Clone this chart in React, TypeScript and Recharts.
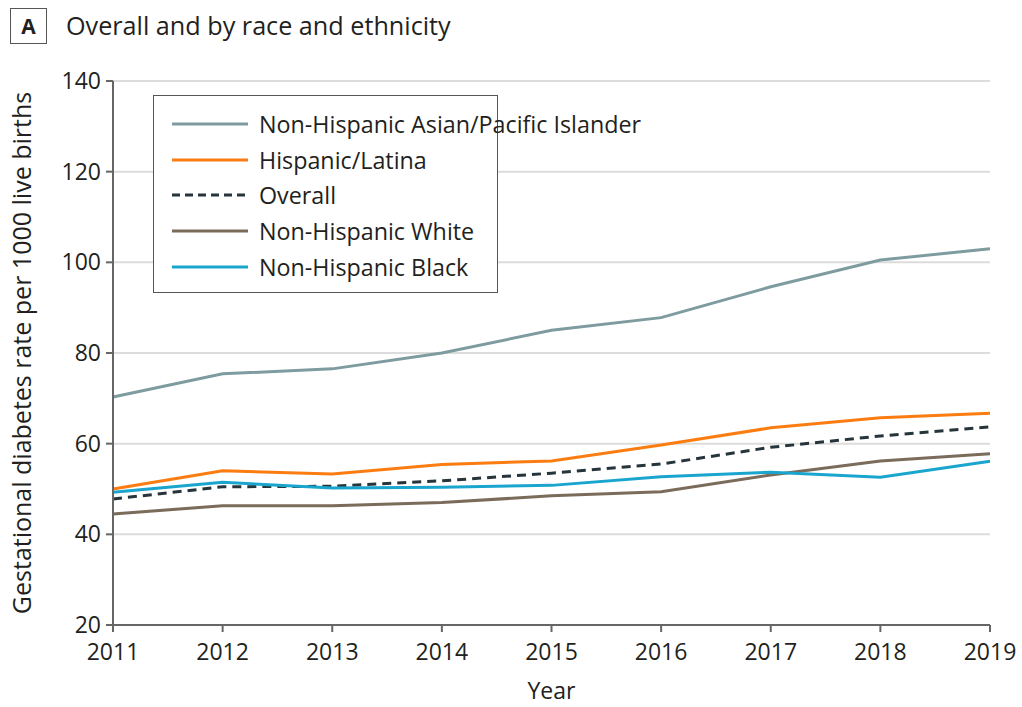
import React from 'react';
import {
  LineChart,
  Line,
  XAxis,
  YAxis,
  CartesianGrid,
  Legend,
  Label,
} from 'recharts';

// Gestational diabetes rate per 1000 live births, 2011-2019
const years = [2011, 2012, 2013, 2014, 2015, 2016, 2017, 2018, 2019];
const asianPacificIslander = [70.3, 75.4, 76.5, 80.0, 85.0, 87.8, 94.6, 100.5, 103.0];
const hispanicLatina = [50.0, 54.0, 53.3, 55.4, 56.2, 59.7, 63.5, 65.7, 66.7];
const overall = [47.8, 50.5, 50.6, 51.8, 53.5, 55.5, 59.2, 61.7, 63.7];
const nonHispanicWhite = [44.5, 46.3, 46.3, 47.0, 48.5, 49.4, 53.1, 56.2, 57.8];
const nonHispanicBlack = [49.3, 51.5, 50.2, 50.4, 50.8, 52.7, 53.7, 52.6, 56.1];

const yTicks = [20, 40, 60, 80, 100, 120, 140];

const FONT = '"Open Sans", "DejaVu Sans", sans-serif';
const TEXT = '#231f20';

const seriesDefs = [
  { key: 'asian', name: 'Non-Hispanic Asian/Pacific Islander', color: '#7e9c9f', dash: undefined as string | undefined, values: asianPacificIslander },
  { key: 'hispanic', name: 'Hispanic/Latina', color: '#fb7d12', dash: undefined, values: hispanicLatina },
  { key: 'overall', name: 'Overall', color: '#26353b', dash: '9 6', values: overall },
  { key: 'white', name: 'Non-Hispanic White', color: '#7b6b5b', dash: undefined, values: nonHispanicWhite },
  { key: 'black', name: 'Non-Hispanic Black', color: '#1aa5cf', dash: undefined, values: nonHispanicBlack },
];

const data = years.map((year, i) => {
  const row: Record<string, number> = { year };
  seriesDefs.forEach((s) => {
    row[s.key] = s.values[i];
  });
  return row;
});

const LegendBox = () => (
  <div
    style={{
      width: 345,
      height: 198,
      border: '1.5px solid #555',
      background: '#fff',
      boxSizing: 'border-box',
      paddingTop: 10,
      fontFamily: FONT,
    }}
  >
    {seriesDefs.map((s) => (
      <div
        key={s.key}
        style={{ display: 'flex', alignItems: 'center', height: 35.8 }}
      >
        <svg width={96} height={10} style={{ flex: 'none' }}>
          <line
            x1={18}
            x2={94}
            y1={5}
            y2={5}
            stroke={s.color}
            strokeWidth={3}
            strokeDasharray={s.dash ? '8 5' : undefined}
          />
        </svg>
        <span style={{ marginLeft: 9, fontSize: 23.3, color: TEXT, whiteSpace: 'nowrap' }}>
          {s.name}
        </span>
      </div>
    ))}
  </div>
);

export default function App() {
  return (
    <div
      style={{
        position: 'absolute',
        left: 0,
        top: 0,
        width: 1022,
        height: 707,
        background: '#fff',
        fontFamily: FONT,
      }}
    >
      <div
        style={{
          position: 'absolute',
          left: 10,
          top: 8,
          width: 37,
          height: 36,
          border: '1.5px solid #555',
          boxSizing: 'border-box',
          display: 'flex',
          alignItems: 'center',
          justifyContent: 'center',
          fontWeight: 700,
          fontSize: 21,
          color: TEXT,
        }}
      >
        A
      </div>
      <div
        style={{
          position: 'absolute',
          left: 66,
          top: 7,
          fontSize: 25.2,
          lineHeight: '36px',
          color: TEXT,
          whiteSpace: 'nowrap',
        }}
      >
        Overall and by race and ethnicity
      </div>
      <LineChart
        width={1022}
        height={707}
        data={data}
        margin={{ top: 81, right: 32, bottom: 0, left: 0 }}
      >
        <CartesianGrid vertical={false} stroke="#dcdcdc" strokeWidth={2} />
        <XAxis
          dataKey="year"
          type="number"
          domain={[2011, 2019]}
          ticks={years}
          height={82}
          axisLine={{ stroke: '#666', strokeWidth: 2 }}
          tickLine={{ stroke: '#666', strokeWidth: 2 }}
          tickSize={7}
          tickMargin={12}
          tick={{ fontSize: 23, fill: TEXT, fontFamily: FONT }}
        >
          <Label
            value="Year"
            position="insideBottom"
            offset={8}
            style={{ fontSize: 23, fill: TEXT, fontFamily: FONT }}
          />
        </XAxis>
        <YAxis
          type="number"
          domain={[20, 140]}
          ticks={yTicks}
          width={113}
          axisLine={{ stroke: '#666', strokeWidth: 2 }}
          tickLine={{ stroke: '#666', strokeWidth: 2 }}
          tickSize={7}
          tickMargin={5}
          tick={{ fontSize: 23, fill: TEXT, fontFamily: FONT }}
        >
          <Label
            value="Gestational diabetes rate per 1000 live births"
            angle={-90}
            position="insideLeft"
            offset={22}
            style={{ textAnchor: 'middle', fontSize: 25, fill: TEXT, fontFamily: FONT }}
          />
        </YAxis>
        <Legend
          content={<LegendBox />}
          layout="horizontal"
          verticalAlign="middle"
          align="center"
          wrapperStyle={{ left: 153, top: 95, width: 345 }}
        />
        {seriesDefs.map((s) => (
          <Line
            key={s.key}
            type="linear"
            dataKey={s.key}
            name={s.name}
            stroke={s.color}
            strokeWidth={3}
            strokeDasharray={s.dash}
            dot={false}
            activeDot={false}
            isAnimationActive={false}
          />
        ))}
      </LineChart>
    </div>
  );
}
